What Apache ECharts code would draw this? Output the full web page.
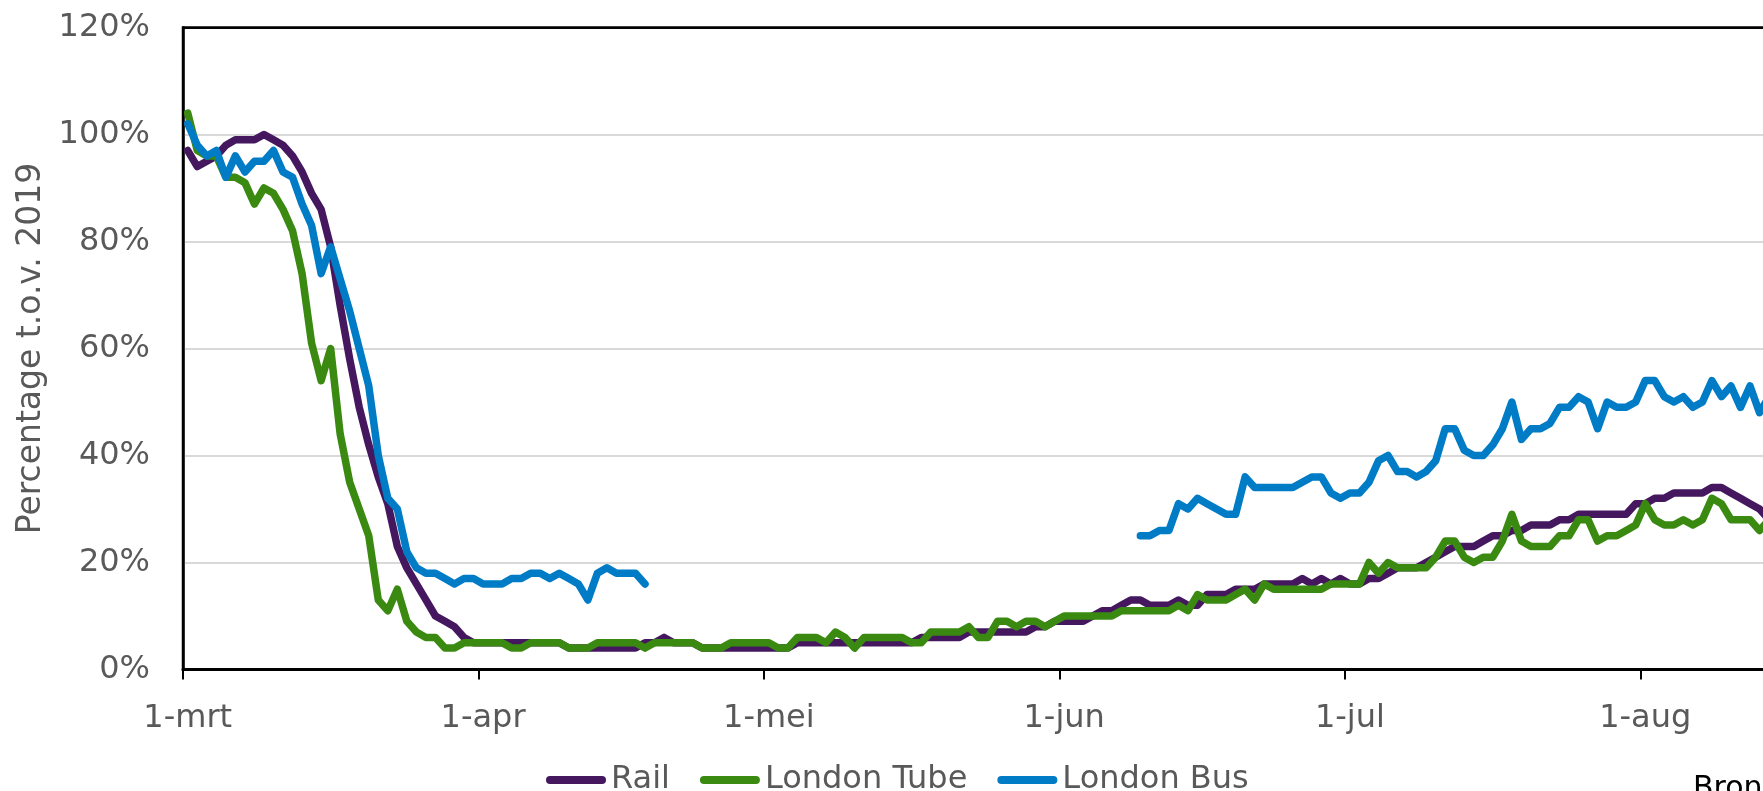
<!DOCTYPE html>
<html>
<head>
<meta charset="utf-8">
<script src="https://cdn.jsdelivr.net/npm/echarts@6/dist/echarts.min.js"></script>
<style>
  html, body { margin: 0; padding: 0; background: #ffffff; }
  #chart { width: 1763px; height: 791px; }
</style>
</head>
<body>
<div id="chart"></div>
<script>
// Month tick labels (Dutch abbreviations) and month lengths, 1 March - 31 August
const monthNames = ['mrt', 'apr', 'mei', 'jun', 'jul', 'aug'];
const monthDays = [31, 30, 31, 30, 31, 31];

// Daily values, % of 2019 level, from 1-mrt onward
const rail = [
  97, 94, 95, 96, 98, 99, 99, 99, 100, 99,
  98, 96, 93, 89, 86, 79, 68, 58, 49, 42,
  36, 31, 23, 19, 16, 13, 10, 9, 8, 6,
  5, 5, 5, 5, 5, 5, 5, 5, 5, 5,
  4, 4, 4, 4, 4, 4, 4, 4, 5, 5,
  6, 5, 5, 5, 4, 4, 4, 4, 4, 4,
  4, 4, 4, 4, 5, 5, 5, 5, 5, 5,
  5, 5, 5, 5, 5, 5, 5, 6, 6, 6,
  6, 6, 7, 7, 7, 7, 7, 7, 7, 8,
  8, 9, 9, 9, 9, 10, 11, 11, 12, 13,
  13, 12, 12, 12, 13, 12, 12, 14, 14, 14,
  15, 15, 15, 16, 16, 16, 16, 17, 16, 17,
  16, 17, 16, 16, 17, 17, 18, 19, 19, 19,
  20, 21, 22, 23, 23, 23, 24, 25, 25, 26,
  26, 27, 27, 27, 28, 28, 29, 29, 29, 29,
  29, 29, 31, 31, 32, 32, 33, 33, 33, 33,
  34, 34, 33, 32, 31, 30, 28
];

const londonTube = [
  104, 97, 96, 96, 92, 92, 91, 87, 90, 89,
  86, 82, 74, 61, 54, 60, 44, 35, 30, 25,
  13, 11, 15, 9, 7, 6, 6, 4, 4, 5,
  5, 5, 5, 5, 4, 4, 5, 5, 5, 5,
  4, 4, 4, 5, 5, 5, 5, 5, 4, 5,
  5, 5, 5, 5, 4, 4, 4, 5, 5, 5,
  5, 5, 4, 4, 6, 6, 6, 5, 7, 6,
  4, 6, 6, 6, 6, 6, 5, 5, 7, 7,
  7, 7, 8, 6, 6, 9, 9, 8, 9, 9,
  8, 9, 10, 10, 10, 10, 10, 10, 11, 11,
  11, 11, 11, 11, 12, 11, 14, 13, 13, 13,
  14, 15, 13, 16, 15, 15, 15, 15, 15, 15,
  16, 16, 16, 16, 20, 18, 20, 19, 19, 19,
  19, 21, 24, 24, 21, 20, 21, 21, 24, 29,
  24, 23, 23, 23, 25, 25, 28, 28, 24, 25,
  25, 26, 27, 31, 28, 27, 27, 28, 27, 28,
  32, 31, 28, 28, 28, 26, 28
];

const londonBus = [
  102, 98, 96, 97, 92, 96, 93, 95, 95, 97,
  93, 92, 87, 83, 74, 79, 73, 67, 60, 53,
  40, 32, 30, 22, 19, 18, 18, 17, 16, 17,
  17, 16, 16, 16, 17, 17, 18, 18, 17, 18,
  17, 16, 13, 18, 19, 18, 18, 18, 16,
  null, null, null, null, null, null, null, null, null, null,
  null, null, null, null, null, null, null, null, null, null,
  null, null, null, null, null, null, null, null, null, null,
  null, null, null, null, null, null, null, null, null, null,
  null, null, null, null, null, null, null, null, null, null,
  null,
  25, 25, 26, 26, 31, 30, 32, 31, 30, 29,
  29, 36, 34, 34, 34, 34, 34, 35, 36, 36,
  33, 32, 33, 33, 35, 39, 40, 37, 37, 36,
  37, 39, 45, 45, 41, 40, 40, 42, 45, 50,
  43, 45, 45, 46, 49, 49, 51, 50, 45, 50,
  49, 49, 50, 54, 54, 51, 50, 51, 49, 50,
  54, 51, 53, 49, 53, 48, 51
];

const yTicks = [0, 20, 40, 60, 80, 100, 120];

// Category labels: one per day, "d-mmm"
const categories = [];
monthNames.forEach(function (m, mi) {
  for (let d = 1; d <= monthDays[mi]; d++) categories.push(d + '-' + m);
});

const FONT = 'DejaVu Sans';
const GREY = '#595959';
const dayWidth = 9.526;
const isMonthStart = function (i, v) { return String(v).indexOf('1-') === 0; };
const gridColors = yTicks.map(function (t, i) { return i === yTicks.length - 1 ? '#000000' : '#d9d9d9'; });

const chart = echarts.init(document.getElementById('chart'), null, { renderer: 'canvas' });
chart.setOption({
  animation: false,
  backgroundColor: '#ffffff',
  grid: {
    left: 183, top: 27.5,
    width: categories.length * dayWidth,
    height: 642,
    show: true, borderColor: '#000000', borderWidth: 2.5,
    containLabel: false,
    outerBoundsMode: 'none'
  },
  legend: {
    left: 541, top: 759,
    itemGap: 30, itemWidth: 60, itemHeight: 8,
    symbolKeepAspect: false,
    icon: 'path://M4,0 H56 A4,4 0 0 1 56,8 H4 A4,4 0 0 1 4,0 Z',
    textStyle: { color: GREY, fontSize: 32, fontFamily: FONT },
    data: ['Rail', 'London Tube', 'London Bus']
  },
  xAxis: {
    type: 'category',
    data: categories,
    boundaryGap: true,
    axisLine: { lineStyle: { color: '#000000', width: 3 } },
    axisTick: { show: true, interval: isMonthStart, length: 10, lineStyle: { color: '#000000', width: 2 } },
    axisLabel: { interval: isMonthStart, margin: 33, color: GREY, fontSize: 32, fontFamily: FONT },
    splitLine: { show: false }
  },
  yAxis: {
    type: 'value',
    min: yTicks[0], max: yTicks[yTicks.length - 1], interval: yTicks[1] - yTicks[0],
    name: 'Percentage t.o.v. 2019',
    nameLocation: 'middle',
    nameGap: 131,
    nameTextStyle: { color: GREY, fontSize: 33, fontFamily: FONT },
    axisLine: { show: true, lineStyle: { color: '#000000', width: 2.5 } },
    axisTick: { show: false },
    axisLabel: { formatter: '{value}%', margin: 33, color: GREY, fontSize: 32, fontFamily: FONT },
    splitLine: { show: true, lineStyle: { color: gridColors, width: 2 } }
  },
  series: [
    {
      name: 'Rail', type: 'line', data: rail, symbol: 'none', connectNulls: false,
      itemStyle: { color: '#44175e' },
      lineStyle: { color: '#44175e', width: 7.5, cap: 'round', join: 'round' }
    },
    {
      name: 'London Tube', type: 'line', data: londonTube, symbol: 'none', connectNulls: false,
      itemStyle: { color: '#3a8a12' },
      lineStyle: { color: '#3a8a12', width: 7.5, cap: 'round', join: 'round' }
    },
    {
      name: 'London Bus', type: 'line', data: londonBus, symbol: 'none', connectNulls: false,
      itemStyle: { color: '#007bc6' },
      lineStyle: { color: '#007bc6', width: 7.5, cap: 'round', join: 'round' }
    }
  ],
  graphic: [
    {
      type: 'text', left: 1693, top: 774,
      style: { text: 'Bron: Department for Transport', fill: '#000000', font: '30px "DejaVu Sans"' }
    }
  ]
});
</script>
</body>
</html>
